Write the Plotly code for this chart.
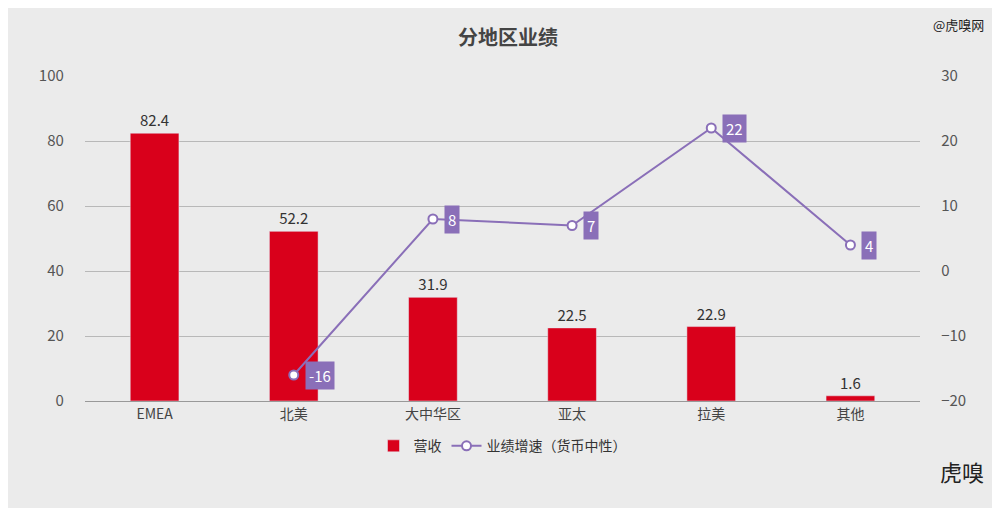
import plotly.graph_objects as go

regions = ["EMEA", "北美", "大中华区", "亚太", "拉美", "其他"]
revenue = [82.4, 52.2, 31.9, 22.5, 22.9, 1.6]
growth = [None, -16, 8, 7, 22, 4]

purple = "#8a6fb8"
red = "#d9001b"

fig = go.Figure()
fig.add_trace(go.Bar(
    x=regions, y=revenue, name="营收", marker_color=red, width=0.35,
    text=[str(v) for v in revenue], textposition="outside",
    textfont=dict(size=15, color="#333"), cliponaxis=False,
))
fig.add_trace(go.Scatter(
    x=regions, y=growth, name="业绩增速（货币中性）", yaxis="y2",
    mode="lines+markers", line=dict(color=purple, width=2),
    marker=dict(size=9, color="white", line=dict(color=purple, width=2)),
))

# label boxes next to line points
for r, g in zip(regions, growth):
    if g is None:
        continue
    fig.add_annotation(
        x=r, y=g, yref="y2", text=str(g), showarrow=False,
        xanchor="left", xshift=11, yshift=0,
        bgcolor=purple, font=dict(color="white", size=15),
        borderpad=3,
    )

fig.add_annotation(x=978, y=16, xref="paper", yref="paper", text="@虎嗅网",
                   showarrow=False, font=dict(size=13, color="#222"))
fig.add_annotation(x=978, y=463, xref="paper", yref="paper", text="虎嗅",
                   showarrow=False, font=dict(size=22, color="#222"))
# convert the two pixel-positioned watermarks to paper coords
for a in fig.layout.annotations[-2:]:
    a.x = (a.x - 77) / (1000 - 77 - 88)
    a.y = 1 - (a.y - 68) / (508 - 68 - 115)
    a.xanchor = "right"
    a.yanchor = "middle"

fig.update_layout(
    width=1000, height=508,
    paper_bgcolor="#ebebeb", plot_bgcolor="#ebebeb",
    font=dict(family="Noto Sans CJK SC, Noto Sans", color="#555", size=14),
    title=dict(text="<b>分地区业绩</b>", x=0.5, y=0.94, xanchor="center",
               yanchor="middle", font=dict(size=20, color="#444")),
    margin=dict(l=77, r=88, t=68, b=115),
    xaxis=dict(showline=True, linecolor="#999", tickfont=dict(size=14, color="#444")),
    yaxis=dict(range=[0, 100], dtick=20, gridcolor="#b8b8b8", zeroline=False,
               tickfont=dict(size=15, color="#555"), ticksuffix="      "),
    yaxis2=dict(range=[-20, 30], dtick=10, overlaying="y", side="right",
                showgrid=False, zeroline=False, tickfont=dict(size=15, color="#555"),
                tickprefix="      "),
    legend=dict(orientation="h", x=0.5, xanchor="center", y=-0.09, yanchor="top",
                font=dict(size=14, color="#333")),
    showlegend=True,
)

fig.write_html("out.html")
